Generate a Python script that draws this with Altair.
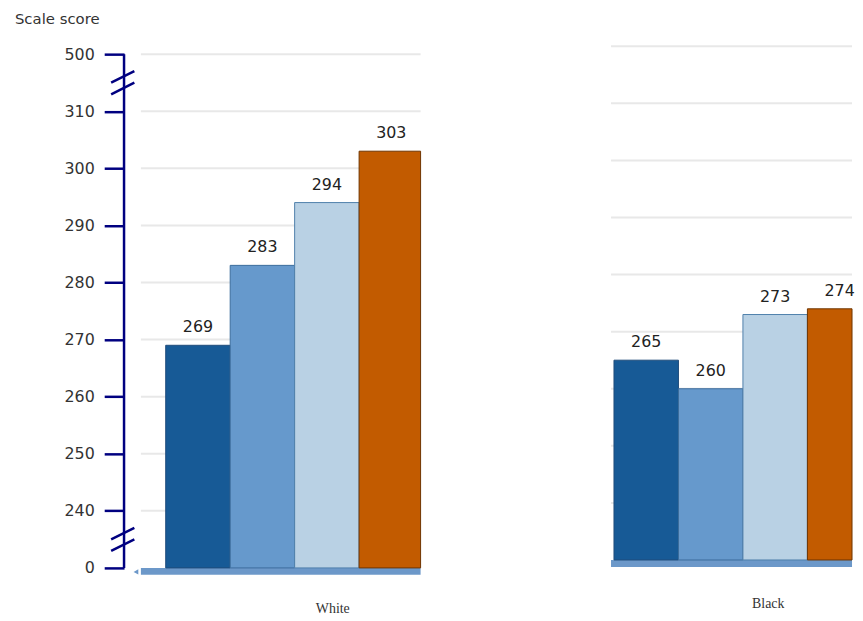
import altair as alt
import pandas as pd

# ---- data ----
groups = ["White", "Black"]
series = ["Series 1", "Series 2", "Series 3", "Series 4"]
white_scores = [269, 283, 294, 303]
black_scores = [265, 260, 273, 274]
tick_labels = [0, 240, 250, 260, 270, 280, 290, 300, 310, 500]
bar_colors = ["#175a96", "#6699cc", "#b9d1e4", "#c25b00"]
bar_strokes = ["#1f4c7a", "#3c6c9c", "#4f7fab", "#6e3500"]

NAVY = "#000080"
LOW_POS, HIGH_POS = 230, 320          # display positions of 0 and 500 on the broken axis
BREAKS = [235, 315]                    # where the axis-break marks sit
SHIFT = 1.39                           # right panel is drawn slightly higher in the source


def to_display(v):
    if v == 0:
        return LOW_POS
    if v == 500:
        return HIGH_POS
    return v


tick_pos = [to_display(v) for v in tick_labels]
grid_pos = [p for p in tick_pos if p != LOW_POS]
label_expr = "datum.value == %d ? '0' : datum.value == %d ? '500' : datum.label" % (LOW_POS, HIGH_POS)

FONT = "DejaVu Sans"
H = 526


def panel(group, scores, width, xdomain, ydomain, show_axis, title_x, title_y):
    df = pd.DataFrame({
        "series": series,
        "idx": list(range(len(series))),
        "score": scores,
        "group": [group] * len(series),
    })
    grid_df = pd.DataFrame({"pos": grid_pos})
    yscale = alt.Scale(domain=ydomain, nice=False, zero=False)
    xscale = alt.Scale(domain=xdomain, nice=False, zero=False, clamp=True)

    if show_axis:
        yaxis = alt.Axis(values=tick_pos, labelExpr=label_expr, domain=False, grid=False,
                         ticks=True, tickSize=20, tickColor=NAVY, tickWidth=2.5, offset=17,
                         labelPadding=10, labelFont=FONT, labelFontSize=16, labelColor="#333333",
                         title=None)
    else:
        yaxis = None

    xaxis = alt.Axis(labels=False, ticks=False, domain=False, grid=False, title=group,
                     titleX=title_x, titleY=title_y, titleFont="Liberation Serif",
                     titleFontSize=14, titleFontWeight="normal", titleColor="#333333",
                     titleBaseline="alphabetic", titleAlign="center")

    grid = alt.Chart(grid_df).mark_rule(color="#e8e8e8", strokeWidth=2).encode(
        y=alt.Y("pos:Q", scale=yscale, axis=yaxis),
        x=alt.value(0), x2=alt.value(width),
    )

    band = alt.Chart(df.head(1)).mark_rect(color="#6c98c9", y2Offset=7).encode(
        x=alt.value(0), x2=alt.value(width),
        y=alt.datum(LOW_POS, scale=yscale), y2=alt.datum(LOW_POS),
    )

    base = alt.Chart(df).transform_calculate(
        x0="datum.idx", x1="datum.idx + 1", xc="datum.idx + 0.5"
    )
    bars = base.mark_bar(strokeWidth=1).encode(
        x=alt.X("x0:Q", scale=xscale, axis=xaxis),
        x2="x1:Q",
        y=alt.Y("score:Q", scale=yscale),
        y2=alt.datum(LOW_POS),
        color=alt.Color("series:N", scale=alt.Scale(domain=series, range=bar_colors), legend=None),
        stroke=alt.Stroke("series:N", scale=alt.Scale(domain=series, range=bar_strokes), legend=None),
    )
    labels = base.mark_text(dy=-13, baseline="alphabetic", font=FONT, fontSize=16,
                            color="#222222").encode(
        x=alt.X("xc:Q", scale=xscale),
        y=alt.Y("score:Q", scale=yscale),
        text="score:Q",
    )

    layers = [grid, band, bars, labels]

    if show_axis:
        arrow = alt.Chart(df.head(1)).mark_point(shape="triangle-left", filled=True, size=30,
                                                 color="#6c98c9", opacity=1, yOffset=4).encode(
            x=alt.value(-5), y=alt.datum(LOW_POS, scale=yscale))
        axis_line = alt.Chart(df.head(1)).mark_rule(color=NAVY, strokeWidth=2.5).encode(
            x=alt.value(-17), y=alt.datum(LOW_POS, scale=yscale), y2=alt.datum(HIGH_POS))
        brk = alt.Chart(pd.DataFrame({"pos": BREAKS})).mark_point(
            shape="M-1,0L0.8,-0.9M-1,0.9L0.8,0", size=676, filled=False,
            stroke=NAVY, strokeWidth=2.5, opacity=1).encode(
            x=alt.value(-17), y=alt.Y("pos:Q", scale=yscale))
        ytitle = alt.Chart(df.head(1)).mark_text(
            text="Scale score", align="left", baseline="alphabetic", font=FONT,
            fontSize=15, color="#333333").encode(x=alt.value(-127), y=alt.value(-22))
        layers += [arrow, axis_line, brk, ytitle]

    return alt.layer(*layers).properties(width=width, height=H)


left = panel("White", white_scores, 282, [-0.385, 3.954],
             [LOW_POS, HIGH_POS + SHIFT], True, 193, 45)
right = panel("Black", black_scores, 243, [-0.046, 3.692],
              [LOW_POS - SHIFT, HIGH_POS], False, 158, 40)

chart = alt.hconcat(left, right, spacing=190).properties(
    padding={"left": 7, "top": 2, "right": 0, "bottom": 5}
).configure_view(stroke=None)

chart.save("out.html", embed_options={"renderer": "svg", "actions": False})
